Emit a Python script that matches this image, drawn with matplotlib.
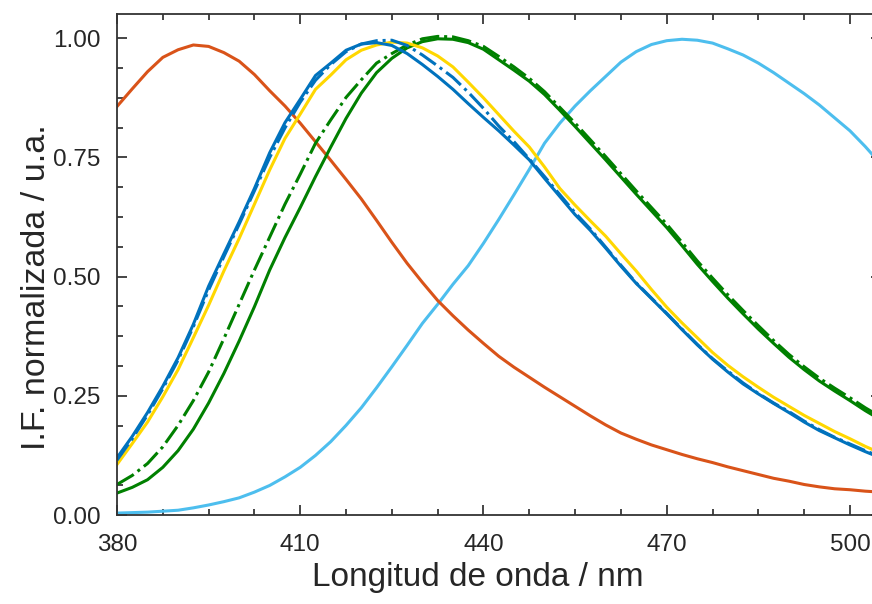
import numpy as np
import matplotlib
matplotlib.use("Agg")
import matplotlib.pyplot as plt
from matplotlib.ticker import FormatStrFormatter

wl = np.arange(380, 505.1, 2.5)

red = [0.857, 0.894, 0.930, 0.960, 0.976, 0.986, 0.983, 0.970, 0.952, 0.924,
       0.890, 0.858, 0.822, 0.783, 0.744, 0.704, 0.663, 0.618, 0.572, 0.528,
       0.488, 0.450, 0.418, 0.388, 0.360, 0.333, 0.310, 0.289, 0.268, 0.248,
       0.228, 0.208, 0.189, 0.172, 0.159, 0.147, 0.137, 0.127, 0.118, 0.110,
       0.101, 0.093, 0.085, 0.077, 0.071, 0.064, 0.059, 0.055, 0.053, 0.050, 0.048]
blue = [0.120, 0.165, 0.215, 0.270, 0.330, 0.400, 0.480, 0.548, 0.615, 0.685,
        0.760, 0.823, 0.872, 0.922, 0.948, 0.975, 0.988, 0.991, 0.985, 0.968,
        0.945, 0.920, 0.893, 0.863, 0.834, 0.806, 0.776, 0.745, 0.706, 0.668,
        0.630, 0.597, 0.560, 0.522, 0.486, 0.454, 0.422, 0.389, 0.357, 0.327,
        0.300, 0.275, 0.254, 0.234, 0.215, 0.195, 0.177, 0.162, 0.147, 0.133, 0.120]
blue_d = [0.115, 0.160, 0.210, 0.265, 0.325, 0.395, 0.472, 0.542, 0.610, 0.680,
          0.750, 0.812, 0.866, 0.912, 0.945, 0.972, 0.988, 0.995, 0.996, 0.985,
          0.965, 0.942, 0.918, 0.887, 0.853, 0.816, 0.783, 0.747, 0.710, 0.672,
          0.634, 0.600, 0.562, 0.524, 0.487, 0.455, 0.423, 0.390, 0.358, 0.328,
          0.302, 0.277, 0.255, 0.235, 0.217, 0.197, 0.179, 0.163, 0.149, 0.135, 0.122]
yellow = [0.106, 0.150, 0.195, 0.248, 0.305, 0.372, 0.440, 0.512, 0.580, 0.652,
          0.724, 0.790, 0.841, 0.893, 0.923, 0.955, 0.975, 0.986, 0.992, 0.990,
          0.980, 0.963, 0.940, 0.908, 0.875, 0.840, 0.805, 0.772, 0.730, 0.685,
          0.650, 0.617, 0.585, 0.548, 0.512, 0.473, 0.436, 0.403, 0.372, 0.341,
          0.314, 0.290, 0.268, 0.247, 0.228, 0.209, 0.192, 0.175, 0.160, 0.144, 0.130]
green = [0.046, 0.058, 0.074, 0.100, 0.135, 0.180, 0.235, 0.297, 0.365, 0.437,
         0.514, 0.582, 0.645, 0.710, 0.772, 0.832, 0.885, 0.928, 0.958, 0.980,
         0.993, 0.999, 0.998, 0.991, 0.977, 0.955, 0.933, 0.910, 0.882, 0.849,
         0.815, 0.780, 0.745, 0.709, 0.673, 0.638, 0.603, 0.565, 0.526, 0.490,
         0.455, 0.422, 0.390, 0.360, 0.331, 0.305, 0.281, 0.260, 0.240, 0.219, 0.200]
green_d = [0.064, 0.083, 0.108, 0.143, 0.188, 0.240, 0.300, 0.370, 0.442, 0.514,
           0.583, 0.652, 0.715, 0.780, 0.829, 0.876, 0.913, 0.948, 0.968, 0.986,
           0.999, 1.004, 1.003, 0.995, 0.983, 0.962, 0.940, 0.916, 0.888, 0.855,
           0.822, 0.787, 0.752, 0.716, 0.680, 0.645, 0.610, 0.572, 0.533, 0.497,
           0.462, 0.429, 0.397, 0.366, 0.337, 0.311, 0.287, 0.266, 0.246, 0.225, 0.206]
cyan = [0.004, 0.005, 0.006, 0.008, 0.010, 0.015, 0.021, 0.028, 0.036, 0.048,
        0.062, 0.080, 0.100, 0.125, 0.154, 0.188, 0.225, 0.267, 0.311, 0.356,
        0.402, 0.442, 0.484, 0.523, 0.570, 0.620, 0.672, 0.725, 0.780, 0.822,
        0.858, 0.890, 0.920, 0.950, 0.972, 0.987, 0.995, 0.998, 0.996, 0.990,
        0.978, 0.965, 0.948, 0.928, 0.906, 0.884, 0.860, 0.833, 0.806, 0.773, 0.737]

x_major = [380, 410, 440, 470, 500]
y_major = [0.0, 0.25, 0.5, 0.75, 1.0]

plt.rcParams['font.family'] = ['Liberation Sans', 'DejaVu Sans']

fig = plt.figure(figsize=(8.72, 6.04), dpi=100)
ax = fig.add_axes([117/872, 89/604, 763.5/872, 501/604])

lw = 2.2
ax.plot(wl, cyan, color='#4DBEEE', lw=lw)
ax.plot(wl, red, color='#D95319', lw=lw)
ax.plot(wl, green, color='#008000', lw=lw)
ax.plot(wl, green_d, color='#008000', lw=lw, ls='-.')
ax.plot(wl, yellow, color='#FFD700', lw=lw)
ax.plot(wl, blue, color='#0072BD', lw=lw)
ax.plot(wl, blue_d, color='#0072BD', lw=lw, ls='-.')

ax.set_xlim(380, 505)
ax.set_ylim(0, 1.051)
ax.set_xticks(x_major)
ax.set_xticks(np.arange(380, 506, 7.5), minor=True)
ax.set_yticks(y_major)
ax.set_yticks(np.arange(0, 1.05, 0.0625), minor=True)
ax.yaxis.set_major_formatter(FormatStrFormatter('%.2f'))

tc = '#262626'
ax.tick_params(which='both', direction='in', top=True, right=True, colors=tc,
               labelsize=17.5, width=1.2)
ax.tick_params(which='major', length=7)
ax.tick_params(axis='x', which='major', pad=14)
ax.tick_params(axis='y', which='major', pad=12)
ax.tick_params(which='minor', length=4)
for s in ax.spines.values():
    s.set_color('#333333')
    s.set_linewidth(1.3)

ax.set_xlabel('Longitud de onda / nm', fontsize=24, color=tc)
ax.set_ylabel('I.F. normalizada / u.a.', fontsize=24.5, color=tc)
ax.xaxis.set_label_coords((478 - 117) / 763.5, (515 - 562) / 501)
ax.yaxis.set_label_coords((52 - 117) / 763.5, 0.455)

fig.savefig('out.png', dpi=100)
